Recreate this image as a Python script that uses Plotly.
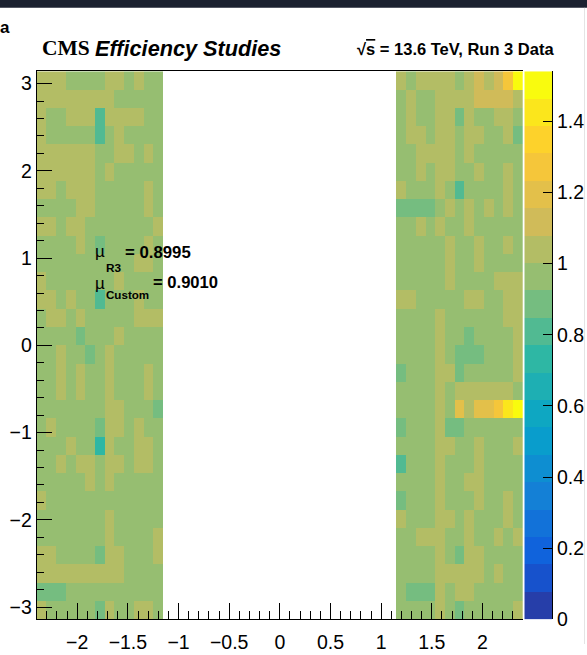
import numpy as np
import plotly.graph_objects as go

# eta / phi binning of the efficiency map
ETA_MIN, ETA_MAX, N_ETA = -2.4, 2.4, 50
N_PHI = 30
N_SIDE = 13  # filled eta bins on each side of the barrel gap

# efficiency per cell, rows listed from phi = +pi (top) down to phi = -pi
eff_negative_eta = [
    [1.04, 1.04, 1.04, 0.96, 0.96, 0.96, 0.96, 1.04, 1.04, 0.96, 1.04, 0.96, 0.96],
    [1.04, 1.04, 1.04, 1.04, 1.04, 1.04, 1.04, 1.04, 0.96, 0.96, 0.96, 0.96, 0.96],
    [1.04, 0.96, 0.96, 1.04, 1.04, 1.04, 0.83, 1.04, 1.04, 1.04, 1.04, 0.96, 0.96],
    [1.04, 0.96, 0.96, 0.96, 0.96, 0.96, 0.83, 0.96, 1.04, 0.96, 0.96, 0.96, 0.96],
    [1.04, 1.04, 1.04, 1.04, 1.04, 1.04, 0.96, 0.96, 1.04, 1.04, 0.96, 1.04, 0.96],
    [1.04, 1.04, 1.04, 1.04, 1.04, 1.04, 0.96, 1.04, 0.96, 0.96, 0.96, 0.96, 0.96],
    [1.04, 1.04, 0.96, 1.04, 1.04, 1.04, 0.96, 0.96, 0.96, 0.96, 0.96, 1.04, 0.96],
    [0.96, 0.96, 0.96, 0.96, 1.04, 1.04, 0.96, 0.96, 0.96, 0.96, 0.96, 1.04, 0.96],
    [1.04, 1.04, 0.96, 1.04, 1.04, 0.96, 0.96, 0.96, 0.96, 0.96, 0.96, 0.96, 1.04],
    [0.96, 0.96, 0.96, 0.96, 1.04, 0.96, 0.89, 0.96, 0.96, 0.96, 0.96, 1.04, 0.96],
    [0.96, 0.96, 0.96, 0.96, 0.96, 0.96, 0.96, 0.96, 0.96, 0.96, 1.04, 1.04, 0.96],
    [1.04, 0.96, 0.96, 0.96, 0.96, 0.96, 0.96, 0.96, 1.04, 0.96, 0.96, 0.96, 0.96],
    [1.04, 1.04, 0.96, 1.04, 0.96, 0.96, 0.81, 0.96, 0.96, 0.96, 1.04, 0.96, 0.96],
    [0.96, 1.04, 1.04, 0.96, 1.04, 0.96, 0.96, 0.96, 0.96, 0.96, 1.04, 1.04, 1.04],
    [0.96, 0.96, 0.96, 0.96, 0.89, 0.96, 0.96, 0.96, 1.04, 0.96, 0.96, 0.96, 0.96],
    [0.96, 0.96, 1.04, 0.96, 0.96, 0.89, 0.96, 1.04, 0.96, 0.96, 0.96, 0.96, 0.96],
    [0.96, 0.96, 1.04, 0.96, 1.04, 0.96, 0.96, 1.04, 0.96, 0.96, 0.96, 1.04, 0.96],
    [0.96, 0.96, 1.04, 0.96, 1.04, 0.96, 0.96, 1.04, 0.96, 0.96, 0.96, 1.04, 0.96],
    [0.96, 0.96, 0.96, 0.96, 0.96, 0.96, 0.96, 1.04, 1.04, 0.96, 0.96, 0.96, 0.89],
    [0.96, 1.04, 0.96, 0.96, 0.96, 0.96, 0.89, 1.04, 1.04, 0.96, 1.04, 0.96, 0.96],
    [0.96, 0.96, 0.96, 1.04, 0.96, 0.96, 0.73, 1.04, 0.96, 0.96, 1.04, 1.04, 0.96],
    [0.96, 0.96, 1.04, 0.96, 1.04, 1.04, 0.96, 1.04, 1.04, 0.96, 1.04, 1.04, 0.96],
    [0.96, 0.96, 0.96, 0.96, 0.96, 1.04, 0.96, 1.04, 0.96, 0.96, 0.96, 0.96, 0.96],
    [1.04, 0.96, 0.96, 0.96, 0.96, 0.96, 0.96, 0.96, 0.96, 0.96, 0.96, 0.96, 0.96],
    [0.96, 0.96, 0.96, 0.96, 0.96, 0.96, 0.96, 1.04, 0.96, 0.96, 0.96, 0.96, 0.96],
    [0.96, 0.96, 0.96, 0.96, 0.96, 0.96, 0.96, 1.04, 0.96, 0.96, 0.96, 0.96, 1.04],
    [1.04, 1.04, 0.96, 0.96, 0.96, 0.96, 0.89, 1.04, 1.04, 0.96, 0.96, 0.96, 1.04],
    [1.04, 1.04, 1.04, 1.04, 1.04, 1.04, 1.04, 1.04, 1.04, 0.96, 0.96, 0.96, 0.96],
    [0.89, 0.89, 0.89, 0.96, 0.96, 0.96, 0.96, 0.96, 0.96, 0.96, 0.96, 0.96, 0.96],
    [1.04, 0.96, 0.96, 0.96, 0.96, 0.96, 0.89, 1.04, 0.96, 0.96, 1.04, 1.04, 0.96],
]

eff_positive_eta = [
    [1.04, 0.96, 1.04, 1.04, 1.04, 1.04, 0.96, 1.04, 1.12, 1.04, 1.12, 1.27, 1.54],
    [0.96, 1.04, 0.96, 0.96, 1.04, 1.04, 1.04, 1.04, 1.12, 1.12, 1.12, 1.12, 1.04],
    [0.96, 1.04, 0.96, 0.96, 1.04, 1.04, 0.89, 1.04, 0.96, 0.96, 1.04, 1.04, 0.96],
    [0.96, 1.04, 1.04, 0.96, 1.04, 1.04, 0.96, 1.04, 1.04, 0.96, 0.96, 1.04, 0.89],
    [0.96, 0.96, 1.04, 1.04, 1.04, 1.04, 0.96, 1.04, 0.96, 0.96, 0.96, 0.96, 0.96],
    [0.96, 0.96, 1.04, 0.96, 1.04, 1.04, 0.96, 0.96, 1.04, 0.96, 0.96, 1.04, 0.96],
    [1.04, 0.96, 0.96, 0.96, 1.04, 0.96, 0.78, 0.96, 0.96, 0.96, 0.96, 1.04, 0.96],
    [0.89, 0.89, 0.89, 0.89, 0.96, 1.04, 0.96, 1.04, 0.96, 1.04, 0.96, 1.04, 0.96],
    [0.96, 0.96, 1.04, 0.96, 1.04, 0.96, 0.96, 1.04, 0.96, 0.96, 0.96, 0.96, 0.96],
    [0.96, 0.96, 0.96, 0.96, 0.96, 1.04, 0.96, 0.96, 1.04, 0.96, 0.96, 1.04, 0.96],
    [0.96, 0.96, 0.96, 0.96, 0.96, 1.04, 0.96, 0.96, 1.04, 0.96, 0.96, 0.96, 0.96],
    [0.96, 0.96, 0.96, 0.96, 0.96, 1.04, 0.96, 0.96, 0.96, 0.96, 1.04, 1.04, 1.04],
    [1.04, 1.04, 0.96, 0.96, 0.96, 0.96, 0.96, 1.04, 1.04, 0.96, 0.96, 1.04, 1.04],
    [0.96, 0.96, 0.96, 0.96, 1.04, 0.96, 0.96, 0.96, 0.96, 0.96, 0.96, 1.04, 1.04],
    [0.96, 0.96, 0.96, 0.96, 1.04, 0.96, 0.96, 0.89, 0.96, 0.96, 0.96, 0.96, 1.04],
    [0.96, 0.96, 0.96, 0.96, 1.04, 0.96, 0.89, 0.89, 0.89, 0.96, 0.96, 0.96, 1.04],
    [0.89, 0.96, 0.96, 0.96, 1.04, 1.04, 0.89, 0.96, 0.96, 0.96, 0.96, 0.96, 1.04],
    [0.96, 0.96, 0.96, 0.96, 1.04, 0.96, 1.04, 1.04, 1.04, 1.04, 1.04, 1.04, 0.96],
    [0.96, 0.96, 0.96, 0.96, 1.04, 0.96, 1.19, 1.04, 1.19, 1.19, 1.27, 1.42, 1.50],
    [0.89, 0.96, 0.96, 0.96, 1.04, 0.89, 0.89, 0.96, 0.96, 0.96, 0.96, 0.96, 0.96],
    [0.96, 0.96, 0.96, 0.96, 1.04, 1.04, 0.96, 0.96, 1.04, 0.96, 0.96, 0.96, 1.04],
    [0.81, 0.96, 0.96, 0.96, 1.04, 0.96, 0.96, 0.96, 1.04, 0.96, 0.96, 0.96, 0.96],
    [0.96, 0.96, 0.96, 0.96, 1.04, 0.96, 0.96, 1.04, 1.04, 0.96, 0.96, 0.96, 0.96],
    [0.89, 0.96, 0.96, 0.96, 1.04, 0.96, 0.96, 0.96, 1.04, 0.96, 0.96, 1.04, 0.96],
    [1.04, 0.96, 0.96, 0.96, 1.04, 1.04, 0.96, 1.04, 0.96, 0.96, 0.96, 1.04, 0.96],
    [0.96, 0.96, 1.04, 1.04, 1.04, 0.96, 0.96, 1.04, 0.96, 0.96, 1.04, 0.96, 1.04],
    [0.96, 0.96, 0.96, 0.96, 1.04, 0.96, 0.89, 1.04, 1.04, 0.96, 0.96, 0.96, 0.96],
    [0.96, 0.96, 0.96, 0.96, 1.04, 1.04, 1.04, 1.04, 1.04, 0.96, 1.04, 0.96, 0.96],
    [0.96, 0.89, 0.89, 0.89, 1.04, 0.96, 1.04, 1.04, 0.96, 0.96, 0.96, 0.96, 0.96],
    [0.96, 0.96, 0.96, 0.96, 1.04, 0.96, 0.89, 0.96, 0.96, 0.96, 0.96, 0.96, 1.04],
]

Z_MAX = 1.54
N_CONTOURS = 20
mean_r3 = "0.8995"
mean_custom = "0.9010"
x_ticks = [-2, -1.5, -1, -0.5, 0, 0.5, 1, 1.5, 2]
y_ticks = [-3, -2, -1, 0, 1, 2, 3]
z_ticks = [0, 0.2, 0.4, 0.6, 0.8, 1.0, 1.2, 1.4]


def fmt(v):
    return f"{v:g}".replace("-", "\u2212")


# ROOT kBird palette
bird_stops = [0.0, 0.125, 0.25, 0.375, 0.5, 0.625, 0.75, 0.875, 1.0]
bird_r = [0.2082, 0.0592, 0.0780, 0.0232, 0.1802, 0.5301, 0.8186, 0.9956, 0.9764]
bird_g = [0.1664, 0.3599, 0.5041, 0.6419, 0.7178, 0.7492, 0.7328, 0.7862, 0.9832]
bird_b = [0.5293, 0.8684, 0.8385, 0.7914, 0.6425, 0.4662, 0.3499, 0.1968, 0.0539]


def bird(f):
    r = np.interp(f, bird_stops, bird_r)
    g = np.interp(f, bird_stops, bird_g)
    b = np.interp(f, bird_stops, bird_b)
    return f"rgb({round(r*255)},{round(g*255)},{round(b*255)})"


# 20 discrete contour levels, coloured the way COLZ picks them
colorscale = []
for i in range(N_CONTOURS):
    c = bird((i + 0.99) / N_CONTOURS)
    colorscale.append([i / N_CONTOURS, c])
    colorscale.append([(i + 1) / N_CONTOURS, c])

eta_w = (ETA_MAX - ETA_MIN) / N_ETA
eta_centers = [ETA_MIN + eta_w * (i + 0.5) for i in range(N_ETA)]
phi_w = 2 * np.pi / N_PHI
phi_centers = [-np.pi + phi_w * (j + 0.5) for j in range(N_PHI)]

n_gap = N_ETA - 2 * N_SIDE
z = []
for j in range(N_PHI):
    row = N_PHI - 1 - j
    z.append(eff_negative_eta[row] + [None] * n_gap + eff_positive_eta[row])

# palette strip: one cell per contour level
level_w = Z_MAX / N_CONTOURS
level_edges = [level_w * i for i in range(N_CONTOURS + 1)]
level_mid = [[level_w * (i + 0.5)] for i in range(N_CONTOURS)]

# page geometry in pixels
W, H = 587, 655
L, R, T, B = 36.7, 523.0, 72.5, 630.0
CB_L, CB_R = 524.3, 552.0


def fx(x):
    return x / W


def fy(y):
    return 1 - y / H


font_axis = dict(family="Liberation Sans", size=19.5, color="black")

fig = go.Figure()
fig.add_trace(go.Heatmap(
    x=eta_centers, y=phi_centers, z=z,
    zmin=0, zmax=Z_MAX, colorscale=colorscale,
    showscale=False, hoverinfo="skip", xaxis="x", yaxis="y",
))
fig.add_trace(go.Heatmap(
    x=[0, 1], y=level_edges, z=level_mid,
    zmin=0, zmax=Z_MAX, colorscale=colorscale,
    showscale=False, hoverinfo="skip", xaxis="x2", yaxis="y2",
))

axis_common = dict(
    showgrid=False, zeroline=False, showline=True, linecolor="black", linewidth=1,
    ticks="inside", tickcolor="black", tickwidth=1, tickfont=font_axis,
)

fig.update_layout(
    xaxis=dict(
        domain=[fx(L), fx(R)], anchor="y",
        range=[ETA_MIN, ETA_MAX], tickmode="array", tickvals=x_ticks,
        ticktext=[fmt(v) for v in x_ticks], ticklen=16, mirror=True,
        ticklabelstandoff=5,
        minor=dict(tickmode="linear", tick0=0, dtick=0.1, ticks="inside", ticklen=8,
                   tickcolor="black", tickwidth=1, showgrid=False),
        **axis_common,
    ),
    yaxis=dict(
        domain=[fy(B), fy(T)], anchor="x",
        range=[-np.pi, np.pi], tickmode="array", tickvals=y_ticks,
        ticktext=[fmt(v) for v in y_ticks], ticklen=15,
        minor=dict(tickmode="linear", tick0=0, dtick=0.2, ticks="inside", ticklen=7,
                   tickcolor="black", tickwidth=1, showgrid=False),
        **axis_common,
    ),
    xaxis2=dict(domain=[fx(CB_L), fx(CB_R)], anchor="y2", range=[0, 1],
                visible=False),
    yaxis2=dict(
        domain=[fy(B), fy(T)], anchor="x2", side="right",
        range=[0, Z_MAX], tickmode="array", tickvals=z_ticks,
        ticktext=[fmt(v) for v in z_ticks], ticklen=9,
        **axis_common,
    ),
)

shapes = [
    # dark strip along the top edge
    dict(type="rect", xref="paper", yref="paper", x0=-0.01, x1=1.01,
         y0=fy(8), y1=1.01, fillcolor="#1b2130", line=dict(width=0), layer="above"),
    # faint page edge on the right
    dict(type="line", xref="paper", yref="paper", x0=fx(584.5), x1=fx(584.5),
         y0=0, y1=fy(8), line=dict(color="#e4e4e4", width=1)),
]

annotations = []


def add_text(x, y, text, size, family="Liberation Sans", xanchor="left",
             yanchor="middle"):
    annotations.append(dict(xref="paper", yref="paper", x=fx(x), y=fy(y), text=text,
                            showarrow=False, xanchor=xanchor, yanchor=yanchor,
                            font=dict(family=family, size=size, color="black")))


add_text(-2, 28, "<b>a</b>", 17)
add_text(40, 49, "<b>CMS</b>", 21.5, family="Liberation Serif")
add_text(93, 49, "<b><i>Efficiency Studies</i></b>", 21.7)
add_text(556, 49.5, "<b>√<span style='text-decoration:overline'>s</span> = 13.6 TeV, Run 3 Data</b>",
         16.5, xanchor="right")

add_text(93, 256, "µ", 17)
add_text(104, 273, "<b>R3</b>", 11.8)
add_text(123, 257, f"<b>= {mean_r3}</b>", 16.8)
add_text(93, 288, "µ", 17)
add_text(104, 300, "<b>Custom</b>", 11.6)
add_text(151, 287, f"<b>= {mean_custom}</b>", 16.6)

fig.update_layout(
    width=W, height=H,
    margin=dict(l=0, r=0, t=0, b=0, pad=0),
    paper_bgcolor="white", plot_bgcolor="white",
    shapes=shapes, annotations=annotations,
    showlegend=False,
)

fig.write_html("out.html")
